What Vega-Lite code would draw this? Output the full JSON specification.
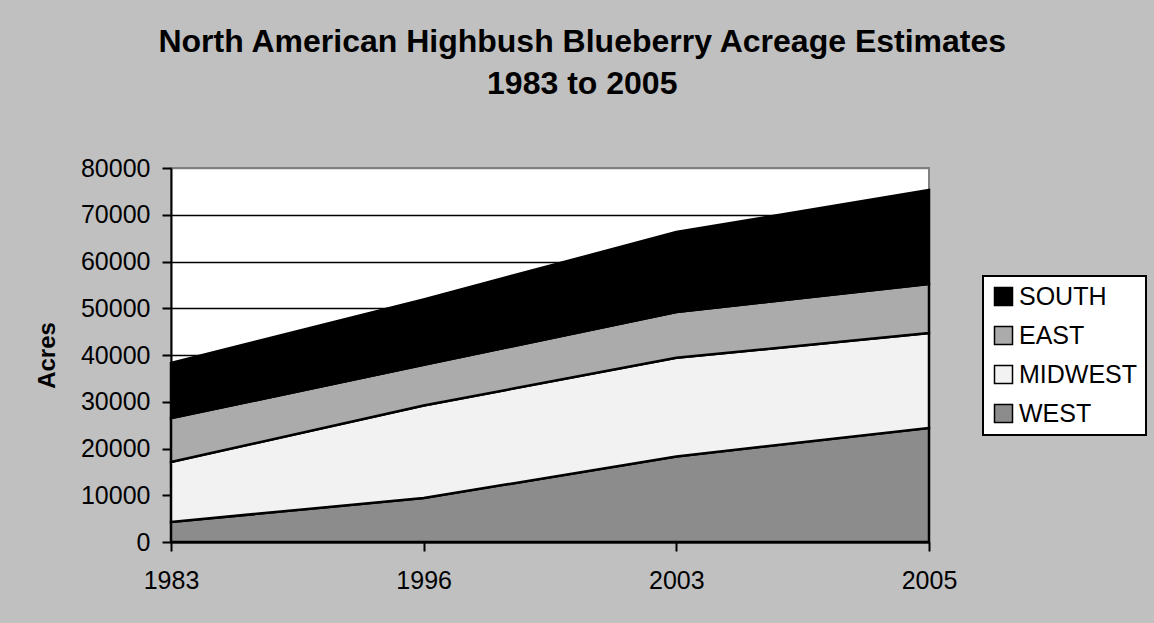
{
  "$schema": "https://vega.github.io/schema/vega-lite/v6.json",
  "width": 758,
  "height": 374,
  "autosize": {"type": "none"},
  "padding": {"left": 171, "top": 168, "right": 225, "bottom": 81},
  "background": "#C0C0C0",
  "title": {
    "text": ["North American Highbush Blueberry Acreage Estimates", "1983 to 2005"],
    "font": "Liberation Sans",
    "fontSize": 32,
    "fontWeight": "bold",
    "color": "black",
    "anchor": "middle",
    "frame": "bounds",
    "lineHeight": 42,
    "dx": -9,
    "offset": 55
  },
  "config": {
    "view": {"fill": "white", "stroke": "#808080", "strokeWidth": 2},
    "axis": {
      "domainColor": "black",
      "domainWidth": 2,
      "tickColor": "black",
      "tickWidth": 2,
      "tickSize": 9,
      "labelFont": "Liberation Sans",
      "labelFontSize": 25,
      "labelColor": "black",
      "titleFont": "Liberation Sans",
      "titleColor": "black"
    },
    "legend": {"strokeWidth": 2}
  },
  "data": {
    "values": [
      {"year": "1983", "region": "WEST", "acres": 4300},
      {"year": "1996", "region": "WEST", "acres": 9400},
      {"year": "2003", "region": "WEST", "acres": 18300},
      {"year": "2005", "region": "WEST", "acres": 24400},
      {"year": "1983", "region": "MIDWEST", "acres": 12800},
      {"year": "1996", "region": "MIDWEST", "acres": 19800},
      {"year": "2003", "region": "MIDWEST", "acres": 21100},
      {"year": "2005", "region": "MIDWEST", "acres": 20300},
      {"year": "1983", "region": "EAST", "acres": 9400},
      {"year": "1996", "region": "EAST", "acres": 8700},
      {"year": "2003", "region": "EAST", "acres": 9800},
      {"year": "2005", "region": "EAST", "acres": 10500},
      {"year": "1983", "region": "SOUTH", "acres": 11800},
      {"year": "1996", "region": "SOUTH", "acres": 14000},
      {"year": "2003", "region": "SOUTH", "acres": 17100},
      {"year": "2005", "region": "SOUTH", "acres": 20100}
    ]
  },
  "transform": [
    {"calculate": "indexof(['WEST', 'MIDWEST', 'EAST', 'SOUTH'], datum.region)", "as": "stackOrder"}
  ],
  "mark": {"type": "area", "stroke": "black", "strokeWidth": 2.5, "opacity": 1},
  "encoding": {
    "x": {
      "field": "year",
      "type": "ordinal",
      "scale": {"type": "point", "padding": 0},
      "axis": {"title": null, "labelAngle": 0, "labelPadding": 17, "grid": false}
    },
    "y": {
      "field": "acres",
      "type": "quantitative",
      "stack": "zero",
      "scale": {"domain": [0, 80000], "nice": false},
      "axis": {
        "title": "Acres",
        "titleFontSize": 24,
        "titleFontWeight": "bold",
        "titlePadding": 21,
        "values": [0, 10000, 20000, 30000, 40000, 50000, 60000, 70000, 80000],
        "format": "d",
        "labelPadding": 12,
        "grid": true,
        "gridColor": {"condition": {"test": "datum.value === 80000", "value": "#808080"}, "value": "black"},
        "gridWidth": 1.5
      }
    },
    "order": {"field": "stackOrder", "type": "quantitative", "sort": "ascending"},
    "color": {
      "field": "region",
      "type": "nominal",
      "sort": ["SOUTH", "EAST", "MIDWEST", "WEST"],
      "scale": {
        "range": ["#000000", "#ababab", "#f2f2f2", "#8c8c8c"]
      },
      "legend": {
        "title": null,
        "orient": "none",
        "legendX": 812,
        "legendY": 108,
        "fillColor": "white",
        "strokeColor": "black",
        "padding": 8,
        "symbolType": "square",
        "symbolSize": 324,
        "symbolStrokeColor": "black",
        "symbolStrokeWidth": 1.5,
        "symbolOpacity": 1,
        "labelFont": "Liberation Sans",
        "labelFontSize": 25,
        "labelColor": "black",
        "labelOffset": 3,
        "rowPadding": 13
      }
    }
  }
}
